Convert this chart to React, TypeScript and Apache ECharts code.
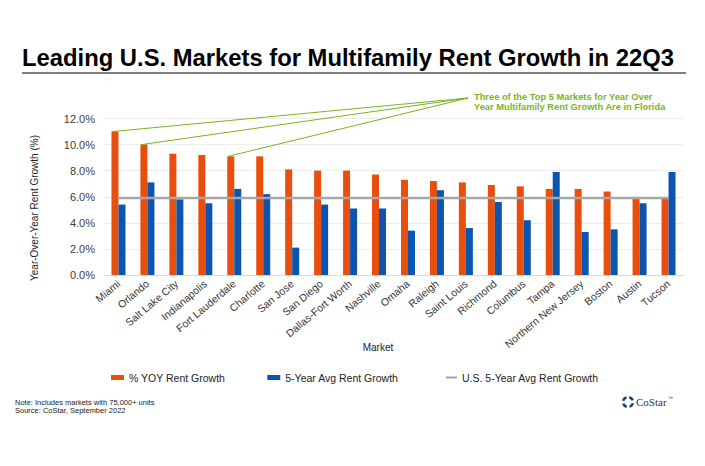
import { useEffect, useRef } from 'react';
import * as echarts from 'echarts';

const markets = ['Miami', 'Orlando', 'Salt Lake City', 'Indianapolis', 'Fort Lauderdale', 'Charlotte', 'San Jose', 'San Diego', 'Dallas-Fort Worth', 'Nashville', 'Omaha', 'Raleigh', 'Saint Louis', 'Richmond', 'Columbus', 'Tampa', 'Northern New Jersey', 'Boston', 'Austin', 'Tucson'];
const yoyGrowth = [11.0, 10.0, 9.3, 9.2, 9.1, 9.1, 8.1, 8.0, 8.0, 7.7, 7.3, 7.2, 7.1, 6.9, 6.8, 6.6, 6.6, 6.4, 5.9, 5.9];
const fiveYearAvg = [5.4, 7.1, 5.8, 5.5, 6.6, 6.2, 2.1, 5.4, 5.1, 5.1, 3.4, 6.5, 3.6, 5.6, 4.2, 7.9, 3.3, 3.5, 5.5, 7.9];
const usFiveYearAvg = 5.9;
const floridaHighlights = ['Miami', 'Orlando', 'Fort Lauderdale'];
const seriesNames = ['% YOY Rent Growth', '5-Year Avg Rent Growth', 'U.S. 5-Year Avg Rent Growth'];

const FONT = '"Liberation Sans", Arial, Helvetica, sans-serif';
const ORANGE = '#ea4e0c';
const BLUE = '#0b55b0';
const GREY = '#a6a6a6';
const GREEN = '#7ab51f';
const NAVY = '#1c3d72';

export default function App() {
  const ref = useRef<HTMLDivElement>(null);
  useEffect(() => {
    const chart = echarts.init(ref.current!, null, { renderer: 'svg' });
    const legendText = { fontFamily: FONT, fontSize: 10.5, color: '#222' };
    chart.setOption({
      animation: false,
      backgroundColor: '#ffffff',
      textStyle: { fontFamily: FONT },
      grid: { left: 104, right: 22, top: 118.5, bottom: 191 },
      legend: [
        {
          left: 111,
          top: 372,
          padding: 0,
          itemWidth: 13,
          itemHeight: 5,
          itemGap: 42,
          textStyle: legendText,
          data: [
            { name: seriesNames[0], icon: 'rect' },
            { name: seriesNames[1], icon: 'rect' },
          ],
        },
        {
          left: 446,
          top: 372,
          padding: 0,
          itemWidth: 11,
          itemHeight: 2,
          textStyle: legendText,
          data: [{ name: seriesNames[2], icon: 'rect' }],
        },
      ],
      xAxis: {
        type: 'category',
        data: markets,
        axisTick: { show: false },
        axisLine: { lineStyle: { color: '#d9d9d9' } },
        axisLabel: { rotate: 40, fontSize: 10.5, color: '#333', margin: 7, interval: 0, fontFamily: FONT },
      },
      yAxis: {
        type: 'value',
        min: 0,
        max: 12,
        interval: 2,
        axisLabel: { formatter: (v: number) => v.toFixed(1) + '%', fontSize: 11, color: '#404040', margin: 9, fontFamily: FONT },
        splitLine: { lineStyle: { color: '#ececec', width: 1 } },
        axisLine: { show: false },
        axisTick: { show: false },
      },
      series: [
        { name: seriesNames[0], type: 'bar', data: yoyGrowth, barWidth: 7, barGap: '0%', itemStyle: { color: ORANGE } },
        { name: seriesNames[1], type: 'bar', data: fiveYearAvg, barWidth: 7, barGap: '0%', itemStyle: { color: BLUE } },
        {
          name: seriesNames[2], type: 'line', data: markets.map(() => usFiveYearAvg),
          symbol: 'none', lineStyle: { color: GREY, width: 2.5 }, itemStyle: { color: GREY }, z: 5,
        },
      ],
    });

    const origin = [468, 98];
    const pointerLines = floridaHighlights.map((name) => {
      const i = markets.indexOf(name);
      const p = chart.convertToPixel({ gridIndex: 0 }, [i, yoyGrowth[i]]) as number[];
      return {
        type: 'line',
        shape: { x1: origin[0], y1: origin[1], x2: p[0] - 6, y2: p[1] },
        style: { stroke: GREEN, lineWidth: 1 },
        z: 10,
      };
    });

    const logoArcs = [0, 1, 2, 3].map((k) => ({
      type: 'arc',
      shape: { cx: 628, cy: 402, r: 5, startAngle: (k * Math.PI) / 2 + 0.25, endAngle: (k * Math.PI) / 2 + 1.25 },
      style: { stroke: NAVY, lineWidth: 2.6, fill: 'none' },
    }));

    chart.setOption({
      graphic: [
        {
          type: 'text', left: 22, top: 45,
          style: { text: 'Leading U.S. Markets for Multifamily Rent Growth in 22Q3', font: `bold 23.8px ${FONT}`, fill: '#000' },
        },
        { type: 'line', shape: { x1: 22, y1: 73, x2: 686, y2: 73 }, style: { stroke: '#7f7f7f', lineWidth: 2 } },
        {
          type: 'text', left: 474, top: 92,
          style: {
            text: 'Three of the Top 5 Markets for Year Over\nYear Multifamily Rent Growth Are in Florida',
            font: `bold 9.3px ${FONT}`, fill: GREEN, lineHeight: 10,
          },
        },
        ...pointerLines,
        {
          type: 'text', x: 34, y: 208, rotation: Math.PI / 2,
          style: { text: 'Year-Over-Year Rent Growth (%)', font: `10px ${FONT}`, fill: '#222', align: 'center', verticalAlign: 'middle' },
        },
        {
          type: 'text', x: 378, y: 347,
          style: { text: 'Market', font: `10px ${FONT}`, fill: '#222', align: 'center', verticalAlign: 'middle' },
        },
        {
          type: 'text', left: 15, top: 398,
          style: { text: 'Note: Includes markets with 75,000+ units\nSource: CoStar, September 2022', font: `7.5px ${FONT}`, fill: '#222', lineHeight: 8.5 },
        },
        ...logoArcs,
        {
          type: 'text', x: 636, y: 402,
          style: { text: 'CoStar', font: `11px "Liberation Serif", "Times New Roman", serif`, fill: '#333', verticalAlign: 'middle' },
        },
        {
          type: 'text', x: 668, y: 398,
          style: { text: '™', font: `5px ${FONT}`, fill: '#333', verticalAlign: 'middle' },
        },
      ],
    });
    return () => chart.dispose();
  }, []);
  return <div ref={ref} style={{ position: 'fixed', left: 0, top: 0, width: 705, height: 466 }} />;
}
